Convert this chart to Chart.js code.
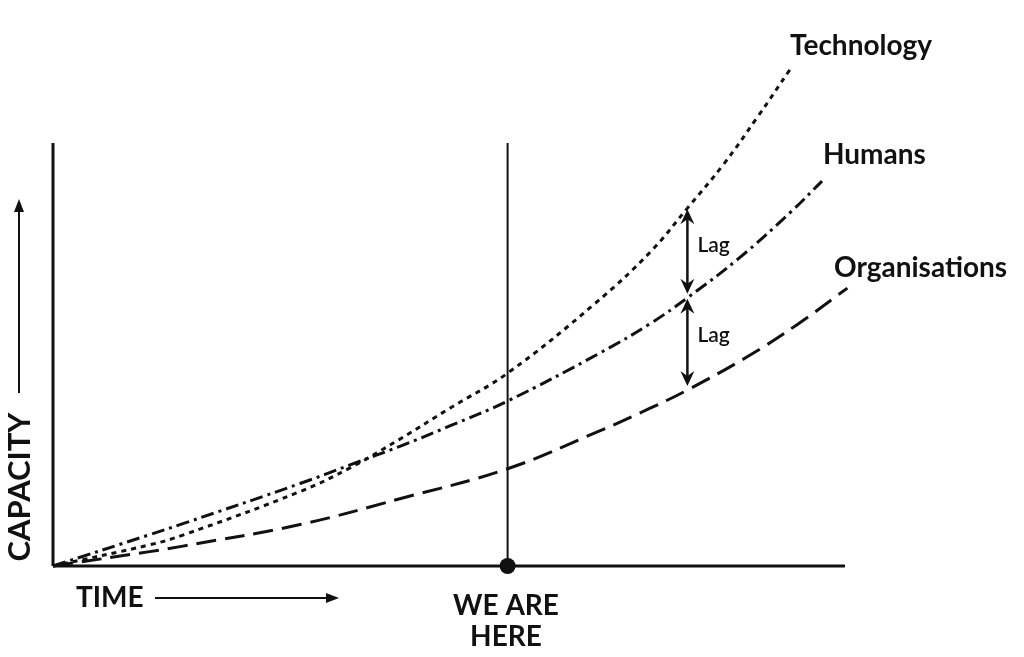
<!DOCTYPE html>
<html>

<head>
    <title>Capacity over time</title>
    <script src="https://cdn.jsdelivr.net/npm/chart.js@4.4.0/dist/chart.umd.min.js"></script>
    <style>
        body {
            margin: 0;
            background: #fff;
        }

        .wrap {
            position: relative;
            width: 1024px;
            height: 657px;
        }
    </style>
</head>

<body>
    <div class="wrap"><canvas id="chart"></canvas></div>

    <script>
        // time runs 0..100 along the x axis, capacity 0..100 up to the top of the axis line
        const technologyX = [0, 12.2, 16.4, 31.2, 37.5, 43.8, 50.1, 57.4, 68.4, 75.4, 80.1, 84.6, 88.9, 93.1];
        const technologyY = [0, 5.0, 7.3, 17.6, 23.2, 30.0, 37.3, 45.6, 62.0, 74.2, 84.6, 94.8, 106.0, 117.5];

        const humansX = [0, 12.2, 16.4, 31.2, 37.5, 43.8, 50.1, 57.4, 69.1, 75.4, 80.1, 86.7, 93.1, 97.1];
        const humansY = [0, 7.4, 10.0, 19.5, 23.9, 28.3, 33.1, 39.0, 50.4, 57.3, 63.4, 72.9, 83.6, 91.0];

        const orgX = [0, 12.2, 16.4, 31.2, 43.8, 57.4, 69.1, 75.4, 80.1, 87.6, 93.9, 100.3];
        const orgY = [0, 3.4, 4.7, 9.8, 15.9, 23.0, 32.0, 37.3, 41.6, 49.4, 57.0, 65.7];

        const nowX = 57.4;
        const lagX = 80.1;
        const lagTop = [84.6, 63.4];     // technology -> humans
        const lagBottom = [63.4, 41.6];  // humans -> organisations

        function pts(xs, ys) {
            return xs.map((x, i) => ({ x: x, y: ys[i] }));
        }

        function arrowHead(ctx, x, y, dir) {
            ctx.beginPath();
            ctx.moveTo(x, y);
            ctx.lineTo(x - 7, y - dir * 15);
            ctx.lineTo(x, y - dir * 10);
            ctx.lineTo(x + 7, y - dir * 15);
            ctx.closePath();
            ctx.fill();
        }

        const extras = {
            id: 'extras',
            afterDatasetsDraw(chart) {
                const ctx = chart.ctx;
                const xs = chart.scales.x, ys = chart.scales.y;
                ctx.save();
                ctx.fillStyle = '#111';
                ctx.strokeStyle = '#111';

                // lag arrows
                const ax = xs.getPixelForValue(lagX);
                [lagTop, lagBottom].forEach(pair => {
                    const y1 = ys.getPixelForValue(pair[0]) + 1;
                    const y2 = ys.getPixelForValue(pair[1]) - 4;
                    ctx.lineWidth = 2.5;
                    ctx.beginPath();
                    ctx.moveTo(ax, y1 + 8);
                    ctx.lineTo(ax, y2 - 8);
                    ctx.stroke();
                    arrowHead(ctx, ax, y1, -1);
                    arrowHead(ctx, ax, y2, 1);
                    ctx.font = '600 21px Lato';
                    ctx.textAlign = 'left';
                    ctx.textBaseline = 'middle';
                    ctx.fillText('Lag', ax + 10, y1 + 36);
                });

                // series labels
                ctx.font = 'bold 28px Lato';
                ctx.textAlign = 'left';
                ctx.textBaseline = 'middle';
                ctx.fillText('Technology', 790, 46);
                ctx.fillText('Humans', 823, 155);
                ctx.fillText('Organisations', 834, 268);

                // axis titles
                ctx.fillText('TIME', 76, 598);
                ctx.lineWidth = 2;
                ctx.beginPath();
                ctx.moveTo(155, 598);
                ctx.lineTo(330, 598);
                ctx.stroke();
                ctx.beginPath();
                ctx.moveTo(339, 598);
                ctx.lineTo(326, 593);
                ctx.lineTo(326, 603);
                ctx.closePath();
                ctx.fill();

                ctx.textAlign = 'center';
                ctx.fillText('WE ARE', 506, 606);
                ctx.fillText('HERE', 506, 637);

                ctx.save();
                ctx.translate(20, 487);
                ctx.rotate(-Math.PI / 2);
                ctx.font = 'bold 31px Lato';
                ctx.fillText('CAPACITY', 0, 0);
                ctx.restore();
                ctx.beginPath();
                ctx.moveTo(19, 393);
                ctx.lineTo(19, 208);
                ctx.stroke();
                ctx.beginPath();
                ctx.moveTo(19, 199);
                ctx.lineTo(14, 212);
                ctx.lineTo(24, 212);
                ctx.closePath();
                ctx.fill();
                ctx.restore();
            }
        };

        new Chart(document.getElementById('chart'), {
            type: 'line',
            data: {
                datasets: [
                    {
                        label: 'Technology',
                        data: pts(technologyX, technologyY),
                        borderColor: '#111',
                        borderWidth: 3,
                        borderDash: [5, 5],
                        pointRadius: 0,
                        tension: 0.4,
                        clip: false
                    },
                    {
                        label: 'Humans',
                        data: pts(humansX, humansY),
                        borderColor: '#111',
                        borderWidth: 3,
                        borderDash: [13, 5, 3, 5],
                        pointRadius: 0,
                        tension: 0.4,
                        clip: false
                    },
                    {
                        label: 'Organisations',
                        data: pts(orgX, orgY),
                        borderColor: '#111',
                        borderWidth: 3,
                        borderDash: [20, 9],
                        pointRadius: 0,
                        tension: 0.4,
                        clip: false
                    },
                    {
                        label: 'y axis',
                        data: [{ x: 0, y: 0 }, { x: 0, y: 100 }],
                        borderColor: '#111',
                        borderWidth: 3,
                        pointRadius: 0,
                        clip: false
                    },
                    {
                        label: 'x axis',
                        data: [{ x: 0, y: 0 }, { x: 100, y: 0 }],
                        borderColor: '#111',
                        borderWidth: 3,
                        pointRadius: 0,
                        clip: false
                    },
                    {
                        label: 'now',
                        data: [{ x: nowX, y: 0 }, { x: nowX, y: 100 }],
                        borderColor: '#111',
                        borderWidth: 2,
                        pointRadius: [8, 0],
                        pointBackgroundColor: '#111',
                        pointBorderWidth: 0,
                        clip: false
                    }
                ]
            },
            options: {
                responsive: true,
                maintainAspectRatio: false,
                animation: false,
                layout: {
                    padding: { left: 53, right: 179, top: 143, bottom: 91 }
                },
                scales: {
                    x: { type: 'linear', min: 0, max: 100, display: false },
                    y: { type: 'linear', min: 0, max: 100, display: false }
                },
                plugins: {
                    legend: { display: false },
                    tooltip: { enabled: false }
                }
            },
            plugins: [extras]
        });
    </script>
</body>

</html>
